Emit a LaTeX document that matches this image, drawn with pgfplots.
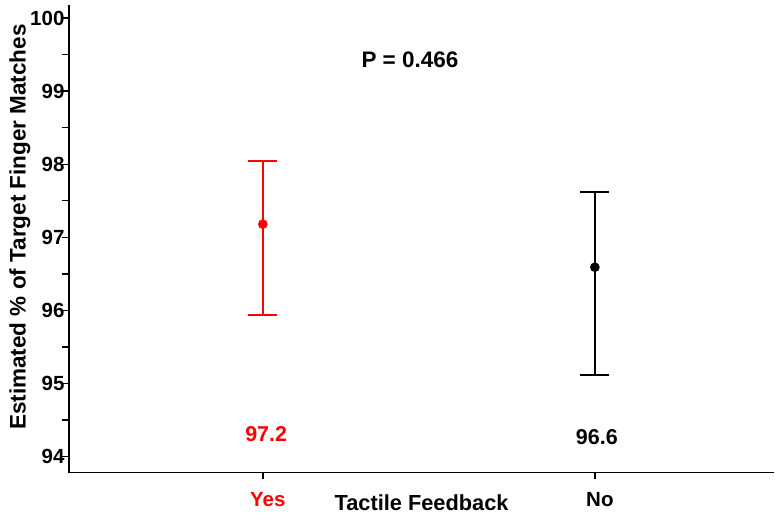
\documentclass[border=0pt]{standalone}
\usepackage{pgfplots}
\pgfplotsset{compat=1.18}
\usepackage{fontspec}
\setmainfont{Liberation Sans}
\newcommand{\tickfont}{\fontsize{20.5bp}{24bp}\selectfont\bfseries}
\newcommand{\valfont}{\fontsize{21.5bp}{25bp}\selectfont\bfseries}
\newcommand{\pfont}{\fontsize{22.5bp}{26bp}\selectfont\bfseries}
\newcommand{\xlabfont}{\fontsize{21.8bp}{25bp}\selectfont\bfseries}
\newcommand{\ylabfont}{\fontsize{22.5bp}{27bp}\selectfont\bfseries}
\begin{document}
\begin{tikzpicture}[x=1bp,y=1bp]
\begin{axis}[
  at={(0,0)}, anchor=south west,
  scale only axis, width=706bp, height=468bp,
  xmin=0.416, xmax=2.54, ymin=93.78, ymax=100.18,
  axis x line*=bottom, axis y line*=left,
  axis line style={line width=1.6bp, black},
  xtick={1,2}, xticklabels={\textcolor{red}{Yes},No},
  ytick={94,95,96,97,98,99,100},
  minor ytick={94.5,95.5,96.5,97.5,98.5,99.5},
  tick align=outside, major tick length=7bp, minor tick length=7bp,
  tick style={line width=1.4bp, black},
  ticklabel style={font=\tickfont},
  xticklabel style={yshift=-9bp, xshift=5bp},
  yticklabel style={xshift=6bp},
  /pgf/number format/assume math mode=true,
  xlabel={Tactile Feedback},
  ylabel={Estimated \% of Target Finger Matches},
  xlabel style={font=\xlabfont, at={(axis description cs:0.5,0)}, anchor=center, yshift=-30bp},
  ylabel style={font=\ylabfont, at={(axis description cs:-0.0694,0.525)}, anchor=center},
  clip=false,
]
\addplot[red, line width=2bp, only marks, mark=*, mark size=4.3bp, mark options={fill=red, draw=red, line width=1bp},
  error bars/.cd, y dir=both, y explicit, error mark=|,
  error bar style={line width=2bp, red},
  error mark options={mark size=14.5bp, red, line width=2bp}]
  coordinates {(1,97.18) += (0,0.87) -= (0,1.25)};
\addplot[black, line width=2bp, only marks, mark=*, mark size=4.3bp, mark options={fill=black, draw=black, line width=1bp},
  error bars/.cd, y dir=both, y explicit, error mark=|,
  error bar style={line width=2bp, black},
  error mark options={mark size=14.5bp, black, line width=2bp}]
  coordinates {(2,96.59) += (0,1.03) -= (0,1.47)};
\node[red, font=\valfont] at (axis cs:1.01,94.30) {97.2};
\node[black, font=\valfont] at (axis cs:2.006,94.27) {96.6};
\node[black, font=\pfont] at (axis cs:1.443,99.43) {P = 0.466};
\end{axis}
\path[use as bounding box] (-69,-42) rectangle (706,473);
\end{tikzpicture}
\end{document}
